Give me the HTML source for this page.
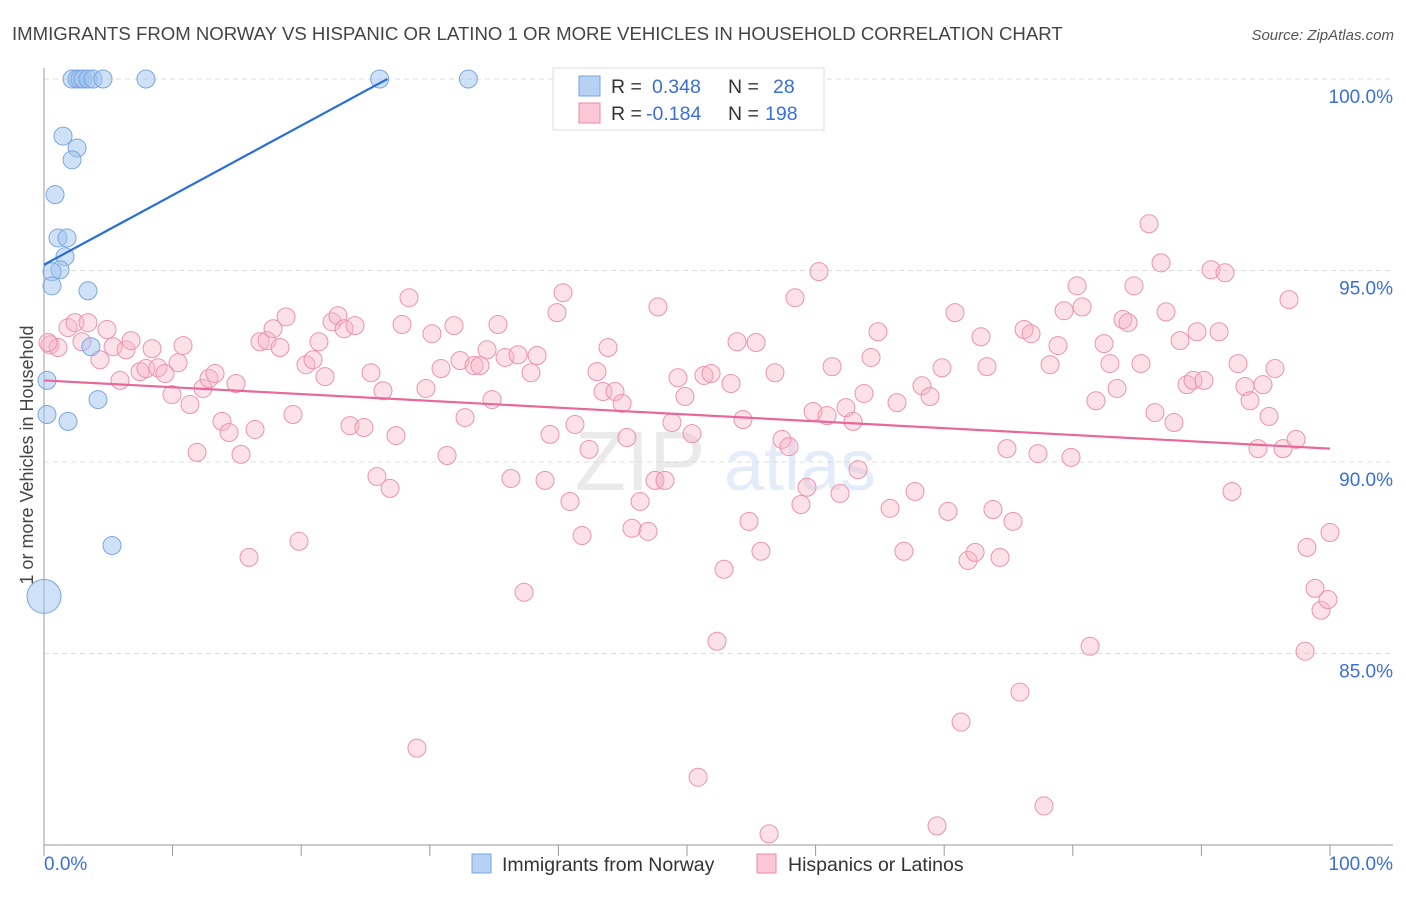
<!DOCTYPE html>
<html><head><meta charset="utf-8">
<style>
body{margin:0;background:#fff;font-family:"Liberation Sans",sans-serif;}
svg text{font-family:"Liberation Sans",sans-serif;}
</style></head>
<body>
<svg id="chart" width="1406" height="892" viewBox="0 0 1406 892" xmlns="http://www.w3.org/2000/svg">
<text x="12" y="40" font-size="18.6" fill="#444">IMMIGRANTS FROM NORWAY VS HISPANIC OR LATINO 1 OR MORE VEHICLES IN HOUSEHOLD CORRELATION CHART</text>
<text x="1394" y="40" font-size="15" fill="#555" font-style="italic" text-anchor="end">Source: ZipAtlas.com</text>
<g opacity="0.13">
<text x="640" y="490" font-size="84" font-family="Liberation Serif" fill="#666" text-anchor="middle">ZIP</text>
<text x="800" y="490" font-size="72" fill="#3a6fd8" text-anchor="middle">atlas</text>
</g>
<g id="grid"></g>
<g id="axes"></g>
<g id="pink"></g>
<g id="blue"></g>
<g id="trends"></g>
<text transform="translate(33,455) rotate(-90)" font-size="18" fill="#444" text-anchor="middle">1 or more Vehicles in Household</text>
<g>
<rect x="553" y="68" width="271" height="62" fill="#fff" stroke="#ddd"/>
<rect x="579" y="76" width="21" height="20" fill="#b7d1f5" stroke="#7aa6e0"/>
<rect x="579" y="103" width="21" height="20" fill="#fbc6d6" stroke="#e88aa8"/>
<text x="611" y="93" font-size="19.5" fill="#333">R =</text>
<text x="652" y="93" font-size="19.5" fill="#3a6fd8">0.348</text>
<text x="728" y="93" font-size="19.5" fill="#333">N =</text>
<text x="773" y="93" font-size="19.5" fill="#3a6fd8">28</text>
<text x="611" y="120" font-size="19.5" fill="#333">R =</text>
<text x="646" y="120" font-size="19.5" fill="#3a6fd8">-0.184</text>
<text x="728" y="120" font-size="19.5" fill="#333">N =</text>
<text x="765" y="120" font-size="19.5" fill="#3a6fd8">198</text>
</g>
<g>
<rect x="472" y="854" width="19" height="19" fill="#b7d1f5" stroke="#7aa6e0"/>
<text x="502" y="871" font-size="19.5" fill="#333">Immigrants from Norway</text>
<rect x="757" y="854" width="19" height="19" fill="#fbc6d6" stroke="#e88aa8"/>
<text x="788" y="871" font-size="19.5" fill="#333">Hispanics or Latinos</text>
</g>
</svg>
<script>
const blueX=[2.18,2.57,2.8,3.03,3.42,3.81,4.59,7.93,26.1,33.0,1.48,2.57,2.18,0.86,1.09,1.79,1.63,1.24,0.62,0.62,3.42,3.65,4.2,0.23,1.87,5.29,0,0.23];
const blueY=[100,100,100,100,100,100,100,100,100,100,98.51,98.2,97.89,96.98,95.85,95.85,95.36,95.02,94.97,94.6,94.47,93.01,91.63,91.24,91.06,87.82,86.49,92.13];
const blueR=[9,9,9,9,9,9,9,9,9,9,9,9,9,9,9,9,9,9,9,9,9,9,9,9,9,9,17,9];
const pinkX=[0.47,1.09,0.31,1.87,2.41,2.95,3.42,4.35,4.9,5.37,5.91,6.38,6.77,7.47,7.93,8.4,8.86,9.41,9.95,10.42,10.81,11.35,11.9,12.36,12.83,13.3,13.84,14.39,14.93,15.32,15.94,16.41,16.8,17.34,17.81,18.35,18.82,19.36,19.83,20.37,20.92,21.38,21.85,22.4,22.86,23.33,23.79,24.18,24.88,25.43,25.89,26.36,26.91,27.37,27.84,28.38,29.0,29.7,30.17,30.87,31.34,31.88,32.35,32.74,33.44,33.9,34.45,34.84,35.3,35.85,36.31,36.86,37.33,37.87,38.34,38.96,39.35,39.89,40.36,40.9,41.29,41.84,42.38,43.0,43.47,43.86,44.4,44.95,45.33,45.72,46.35,46.97,47.51,47.74,48.29,48.83,49.3,49.84,50.39,50.86,51.32,51.87,52.33,52.88,53.42,53.89,54.35,54.82,55.37,55.75,56.38,56.84,57.39,57.93,58.4,58.86,59.33,59.8,60.26,60.89,61.28,61.9,62.36,62.91,63.3,63.76,64.31,64.85,65.79,66.33,66.87,67.73,68.27,68.9,69.44,69.83,70.3,70.84,71.31,71.85,72.4,72.86,73.33,73.79,74.34,74.88,75.35,75.89,76.21,76.75,77.29,77.76,78.23,78.85,79.32,79.86,80.33,80.72,81.34,81.8,82.43,82.89,83.44,83.9,84.29,84.76,85.3,85.93,86.39,86.86,87.25,87.87,88.34,88.88,89.35,89.66,90.2,90.75,91.37,91.84,92.38,92.85,93.39,93.78,94.4,94.79,95.26,95.72,96.35,96.81,97.36,98.06,98.21,98.83,99.3,99.84,100];
const pinkY=[93.06,92.99,93.12,93.51,93.64,93.14,93.64,92.67,93.46,93.01,92.13,92.93,93.17,92.36,92.44,92.96,92.46,92.31,91.76,92.59,93.04,91.5,90.25,91.92,92.18,92.31,91.06,90.77,92.05,90.2,87.51,90.85,93.14,93.17,93.48,92.99,93.79,91.24,87.93,92.54,92.67,93.14,92.23,93.66,93.82,93.48,90.95,93.56,90.9,92.33,89.62,91.86,89.31,90.69,93.59,94.29,82.53,91.92,93.35,92.44,90.17,93.56,92.65,91.16,92.52,92.52,92.93,91.63,93.59,92.73,89.57,92.8,86.6,92.33,92.78,89.52,90.72,93.9,94.42,88.97,90.98,88.08,90.33,92.36,91.84,92.99,91.84,91.53,90.64,88.27,88.97,88.19,89.52,94.05,89.52,91.03,92.2,91.71,90.74,81.77,92.26,92.31,85.32,87.2,92.05,93.14,91.11,88.45,93.12,87.67,80.29,92.33,90.59,90.4,94.29,88.89,89.34,91.32,94.97,91.21,92.49,89.18,91.42,91.06,89.8,91.79,92.73,93.4,88.79,91.55,87.67,89.23,91.99,91.71,80.5,92.46,88.71,93.9,83.21,87.43,87.64,93.27,92.49,88.76,87.51,90.35,88.45,83.99,93.46,93.35,90.22,81.02,92.54,93.04,93.95,90.12,94.6,94.05,85.19,91.6,93.09,92.57,91.92,93.72,93.64,94.6,92.57,96.22,91.29,95.2,93.92,91.03,93.17,92.02,92.13,93.4,92.13,95.02,93.4,94.94,89.23,92.57,91.97,91.6,90.35,92.02,91.19,92.44,90.35,94.24,90.59,85.06,87.77,86.7,86.13,86.41,88.16];
const yTicks=[100,95,90,85];
const yTickLabels=["100.0%","95.0%","90.0%","85.0%"];
const xTicks=[0,10,20,30,40,50,60,70,80,90,100];
const blueTrend=[[0,95.15],[26.7,100]];
const pinkTrend=[[0,92.13],[100,90.35]];

const NS="http://www.w3.org/2000/svg";
const X0=44,X1=1330,YTOP=79,YBOT=845;
function xs(v){return X0+(v/100)*(X1-X0);}
function ys(v){return YTOP+(100-v)/20*(YBOT-YTOP);}
function mk(tag,attrs,parent){const e=document.createElementNS(NS,tag);for(const k in attrs)e.setAttribute(k,attrs[k]);parent.appendChild(e);return e;}

const grid=document.getElementById('grid');
yTicks.forEach((t,i)=>{
  const l=mk('line',{x1:X0,x2:1393,y1:ys(t),y2:ys(t),stroke:'#ddd','stroke-dasharray':'5,4'},grid);
  
  
  const tx=mk('text',{x:1393,y:ys(t)+24,'font-size':19,fill:'#3a6fd8','text-anchor':'end'},grid);
  tx.textContent=yTickLabels[i];
  
  
});
const axes=document.getElementById('axes');
mk('line',{x1:X0,x2:X0,y1:68,y2:YBOT,stroke:'#999'},axes);
mk('line',{x1:X0,x2:1393,y1:YBOT,y2:YBOT,stroke:'#999'},axes);
xTicks.forEach(t=>{
  const l=mk('line',{x1:xs(t),x2:xs(t),y1:YBOT,y2:YBOT+11,stroke:'#999'},axes);
  
  
});
const xl0=mk('text',{x:44,y:870,'font-size':19,fill:'#3a6fd8'},axes);xl0.textContent='0.0%';


const xl1=mk('text',{x:1393,y:870,'font-size':19,fill:'#3a6fd8','text-anchor':'end'},axes);xl1.textContent='100.0%';



const pg=document.getElementById('pink');
pinkX.forEach((v,i)=>{
  const c=mk('circle',{cx:xs(v),cy:ys(pinkY[i]),r:9,fill:'rgba(248,180,200,0.4)',stroke:'#ec93b0','stroke-width':1},pg);
  
  
});
const bg=document.getElementById('blue');
blueX.forEach((v,i)=>{
  const c=mk('circle',{cx:xs(v),cy:ys(blueY[i]),r:blueR[i],fill:'rgba(160,195,240,0.5)',stroke:'#7aa6e0','stroke-width':1},bg);
  
  
});
const tg=document.getElementById('trends');
const bl=mk('line',{x1:xs(blueTrend[0][0]),y1:ys(blueTrend[0][1]),x2:xs(blueTrend[1][0]),y2:ys(blueTrend[1][1]),stroke:'#2a6fd6','stroke-width':2.2},tg);


const pl=mk('line',{x1:xs(pinkTrend[0][0]),y1:ys(pinkTrend[0][1]),x2:xs(pinkTrend[1][0]),y2:ys(pinkTrend[1][1]),stroke:'#e8689a','stroke-width':2.2},tg);


</script>
</body></html>
